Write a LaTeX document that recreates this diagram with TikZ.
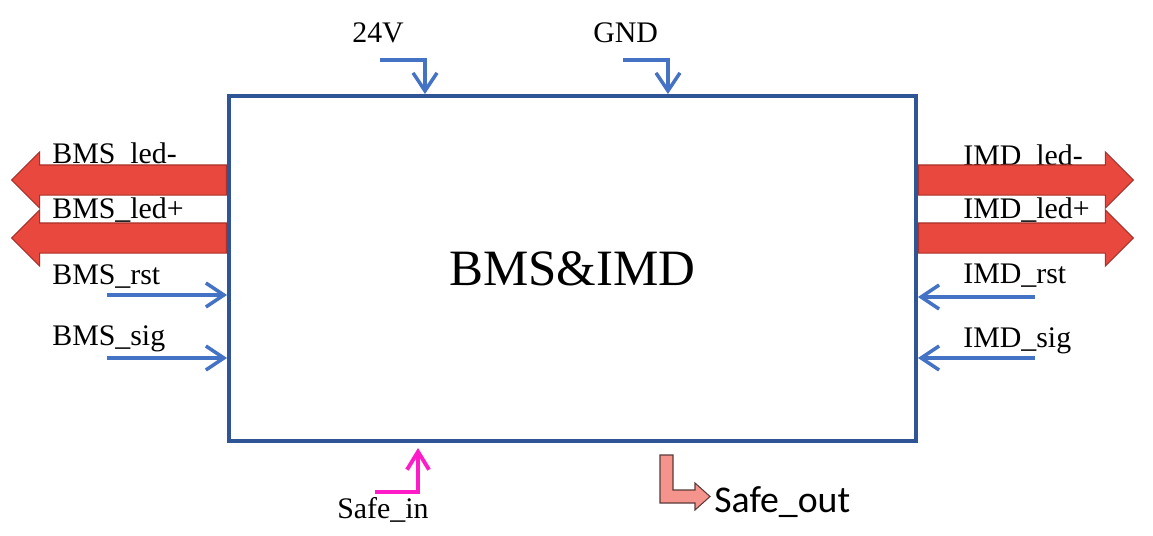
\documentclass[tikz,border=0pt]{standalone}
\usepackage{fontspec}
\setmainfont{Liberation Serif}
\newfontfamily\calfont{Carlito}
\usepackage{xcolor}
\usepackage{tikz}
\usetikzlibrary{arrows.meta,shapes.arrows}

\definecolor{boxblue}{HTML}{2F5597}
\definecolor{sigblue}{HTML}{4472C4}
\definecolor{ledred}{HTML}{E8483D}
\definecolor{ledline}{HTML}{A8322A}
\definecolor{safemag}{HTML}{FF1CC8}
\definecolor{safepink}{HTML}{F4948C}
\definecolor{safeline}{HTML}{5A3A3A}

\tikzset{
  lbl/.style={anchor=base west,inner sep=0pt,font=\fontsize{17}{17}\selectfont},
  sig/.style={color=sigblue,line width=2pt,-{Straight Barb[length=0.36cm,width=0.48cm]}},
  safein/.style={color=safemag,line width=2.2pt,-{Straight Barb[length=0.36cm,width=0.44cm]}},
  led/.style={single arrow,draw=ledline,fill=ledred,line width=0.6pt,inner xsep=0pt,inner ysep=0.29cm,
    minimum height=4.3cm,single arrow head extend=0.26cm,
    single arrow tip angle=90},
}

\begin{document}
\begin{tikzpicture}[x=0.02cm,y=-0.02cm]
\useasboundingbox (0,0) rectangle (1153,535);

\node[draw=boxblue,line width=2.3pt,minimum width=13.74cm,minimum height=6.9cm,inner sep=0pt,font=\fontsize{29}{29}\selectfont] (box) at (572.5,268.5) {BMS\&IMD};

% labels
\node[lbl] (bledm) at (52,163) {BMS\_led-};
\node[lbl] (bledp) at (52,218) {BMS\_led+};
\node[lbl] (brstl) at (52,284) {BMS\_rst};
\node[lbl] (bsigl) at (52,345) {BMS\_sig};
\node[lbl] (iledm) at (963,165) {IMD\_led-};
\node[lbl] (iledp) at (963,218) {IMD\_led+};
\node[lbl] (irstl) at (963,283) {IMD\_rst};
\node[lbl] (isigl) at (963,347) {IMD\_sig};
\node[lbl] (v24) at (352,42) {24V};
\node[lbl] (gnd) at (593,42) {GND};
\node[lbl] (sinl) at (337,518) {Safe\_in};
\node[anchor=base west,inner sep=0pt,font=\calfont\fontsize{21.5}{21.5}\selectfont] (soutl) at (714,512) {Safe\_out};

% led arrows
\node[led,shape border rotate=180,anchor=tail] (ba1) at (box.west |- 0,180) {};
\node[led,shape border rotate=180,anchor=tail] (ba2) at (box.west |- 0,238) {};
\node[led,anchor=tail] (ia1) at (box.east |- 0,180) {};
\node[led,anchor=tail] (ia2) at (box.east |- 0,238) {};

% signal arrows
\coordinate (brst) at (107,295);
\coordinate (bsig) at (107,358);
\coordinate (irst) at (1035,297);
\coordinate (isig) at (1035,358);
\path[sig] (brst) edge (brst -| box.west);
\path[sig] (bsig) edge (bsig -| box.west);
\path[sig] (irst) edge (irst -| box.east);
\path[sig] (isig) edge (isig -| box.east);

\coordinate (p24) at (380,60);
\coordinate (pgnd) at (623,60);
\draw[sig] (p24) -| ([xshift=3.96cm]box.north west);
\draw[sig] (pgnd) -| ([xshift=8.82cm]box.north west);

\coordinate (sin) at (375,492);
\draw[safein] (sin) -| ([xshift=3.82cm,yshift=-0.1cm]box.south west);

\draw[draw=safeline,fill=safepink,line width=0.6pt] (660,455) -- (673,455) -- (673,490) -- (695,490) -- (695,483) -- (710,496.5) -- (695,510) -- (695,503) -- (660,503) -- cycle;

\end{tikzpicture}
\end{document}
